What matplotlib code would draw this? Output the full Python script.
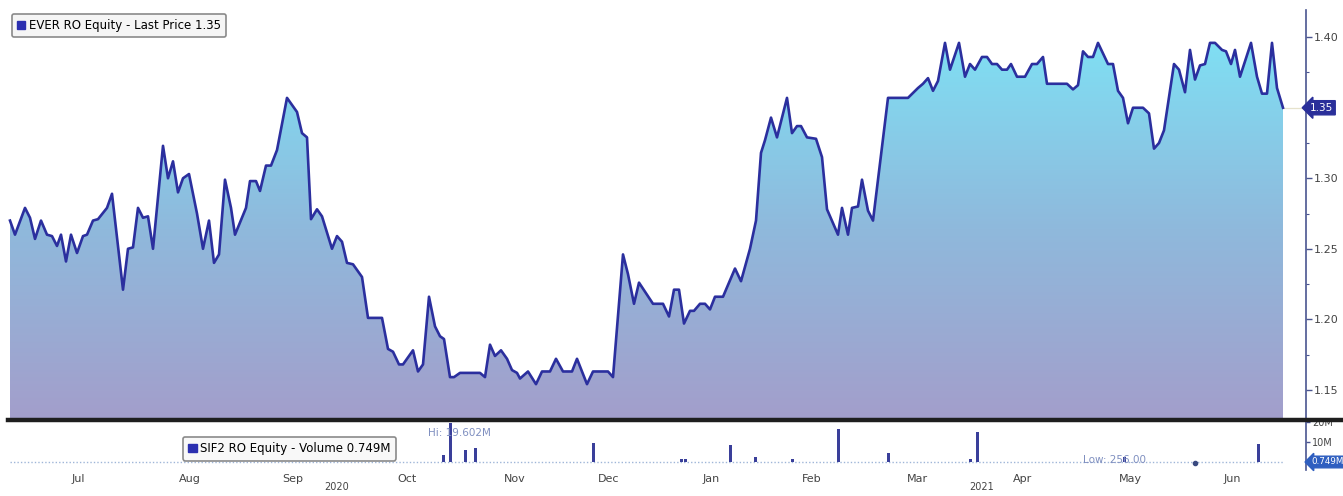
"""EVER RO price with SIF2 RO volume panel, Bloomberg-style static chart."""

import matplotlib

matplotlib.use("Agg")
import matplotlib.pyplot as plt
import numpy as np
from matplotlib.colors import LinearSegmentedColormap
from matplotlib.lines import Line2D
from matplotlib.patches import Patch

plt.rcParams["font.family"] = ["Liberation Sans Narrow", "DejaVu Sans"]

# Price series (x = trading session index, y = last price)
days = [
    0.0, 1.0, 3.0, 4.0, 5.0, 6.2, 7.4, 8.4, 9.4, 10.2, 11.2, 12.2, 13.4, 14.6, 15.4,
    16.6, 17.6, 19.4, 20.4, 22.6, 23.6, 24.6, 25.6, 26.6, 27.6, 28.6, 30.6, 31.6,
    32.6, 33.6, 34.6, 35.8, 37.4, 38.6, 39.8, 40.8, 41.8, 43.0, 44.2, 45.0, 47.2,
    48.0, 49.2, 50.0, 51.2, 52.2, 53.4, 55.4, 57.4, 58.4, 59.4, 60.2, 61.4, 62.4,
    64.4, 65.4, 66.4, 67.4, 68.6, 70.4, 71.6, 74.4, 75.6, 76.6, 77.8, 78.6, 80.6,
    81.6, 82.6, 83.8, 85.0, 86.0, 86.8, 88.0, 88.8, 90.0, 94.0, 95.0, 96.0, 97.0,
    98.2, 99.4, 100.4, 101.4, 102.0, 103.6, 105.2, 106.4, 108.0, 109.2, 110.6,
    112.4, 113.4, 115.4, 116.6, 119.6, 120.6, 122.6, 123.6, 124.8, 125.8, 128.6,
    130.6, 131.8, 132.8, 133.8, 134.8, 136.0, 136.8, 138.0, 139.0, 140.0, 141.0,
    142.6, 145.0, 146.2, 148.0, 149.2, 150.2, 151.0, 152.2, 153.4, 155.4, 156.4,
    157.4, 158.2, 159.4, 161.2, 162.4, 163.4, 165.6, 166.4, 167.6, 168.4, 169.6,
    170.4, 171.6, 172.6, 175.6, 179.6, 181.6, 182.6, 183.6, 184.6, 185.6, 187.0,
    188.0, 189.8, 191.0, 192.0, 193.0, 194.4, 195.4, 196.4, 197.4, 198.4, 199.4,
    200.2, 201.4, 203.0, 204.4, 205.4, 206.6, 207.4, 211.4, 212.6, 213.6, 214.6,
    215.6, 216.6, 217.6, 219.6, 220.6, 221.6, 222.6, 223.6, 224.6, 226.6, 227.8,
    228.8, 229.8, 230.8, 232.8, 233.8, 235.0, 236.0, 237.0, 238.0, 239.0, 240.0,
    241.0, 242.4, 243.2, 244.2, 245.0, 246.0, 248.2, 249.4, 250.4, 251.4, 252.4,
    253.4, 254.6,
]
price = [
    1.270, 1.260, 1.279, 1.272, 1.257, 1.270, 1.260, 1.259, 1.252, 1.260, 1.241, 1.260, 1.247, 1.259, 1.260,
    1.270, 1.271, 1.279, 1.289, 1.221, 1.250, 1.251, 1.279, 1.272, 1.273, 1.250, 1.323, 1.300,
    1.312, 1.290, 1.300, 1.303, 1.275, 1.250, 1.270, 1.240, 1.246, 1.299, 1.279, 1.260, 1.279,
    1.298, 1.298, 1.291, 1.309, 1.309, 1.320, 1.357, 1.347, 1.332, 1.329, 1.271, 1.278, 1.273,
    1.250, 1.259, 1.255, 1.240, 1.239, 1.230, 1.201, 1.201, 1.179, 1.177, 1.168, 1.168, 1.178,
    1.163, 1.168, 1.216, 1.195, 1.188, 1.186, 1.159, 1.159, 1.162, 1.162, 1.159, 1.182, 1.174,
    1.178, 1.172, 1.164, 1.162, 1.158, 1.163, 1.154, 1.163, 1.163, 1.172, 1.163,
    1.163, 1.172, 1.154, 1.163, 1.163, 1.159, 1.246, 1.232, 1.211, 1.226, 1.211,
    1.211, 1.202, 1.221, 1.221, 1.197, 1.206, 1.206, 1.211, 1.211, 1.207, 1.216,
    1.216, 1.236, 1.227, 1.250, 1.270, 1.318, 1.327, 1.343, 1.329, 1.357, 1.332,
    1.337, 1.337, 1.329, 1.328, 1.315, 1.278, 1.260, 1.279, 1.260, 1.279, 1.280,
    1.299, 1.277, 1.270, 1.357, 1.357, 1.364, 1.367, 1.371, 1.362, 1.369, 1.396,
    1.377, 1.396, 1.372, 1.381, 1.377, 1.386, 1.386, 1.381, 1.381, 1.377, 1.377,
    1.381, 1.372, 1.372, 1.381, 1.381, 1.386, 1.367, 1.367, 1.363, 1.366, 1.390,
    1.386, 1.386, 1.396, 1.381, 1.381, 1.362, 1.357, 1.339, 1.350, 1.350, 1.346,
    1.321, 1.325, 1.334, 1.381, 1.377, 1.361, 1.391, 1.370, 1.380, 1.381, 1.396,
    1.396, 1.391, 1.390, 1.381, 1.391, 1.372, 1.396, 1.372, 1.360, 1.360, 1.396,
    1.364, 1.350,
]

# Volume spikes (millions of shares)
vol_days = [86.6, 88.0, 91.0, 93.0, 116.6, 134.2, 135.0, 144.0, 149.0, 156.4,
            165.6, 175.6, 192.0, 193.4, 222.8, 249.6]
vol_m = [3.5, 19.6, 6.0, 7.0, 9.5, 1.5, 1.5, 8.5, 2.5, 1.5,
         16.5, 4.5, 1.5, 15.0, 2.5, 9.0]

month_labels = ["Jul", "Aug", "Sep", "Oct", "Nov", "Dec", "Jan", "Feb", "Mar", "Apr", "May", "Jun"]
month_pos = [13.6, 36.0, 56.6, 79.4, 101.0, 119.8, 140.2, 160.4, 181.4, 202.6, 224.0, 244.4]
year_labels = ["2020", "2021"]
year_pos = [65.4, 194.4]

last_price = 1.35
last_volume = "0.749M"
hi_volume = "Hi: 19.602M"
lo_volume = "Low: 256.00"
lo_day = 237.0

W, H = 1343, 496
fig = plt.figure(figsize=(W / 100, H / 100), dpi=100)
fig.patch.set_facecolor("white")

left, right = 8 / W, 1306 / W
ax = fig.add_axes([left, (H - 420) / H, right - left, 420 / H])
axv = fig.add_axes([left, (H - 470) / H, right - left, 48 / H])

x0, x1 = -0.4, 259.2
y0, y1 = 1.1286, 1.4264
line_col = "#2b2f9e"
axis_col = "#4a5590"
label_col = "#444444"
note_col = "#7f8fc0"

# gradient area under the price line
cmap = LinearSegmentedColormap.from_list("area", ["#a39ecb", "#8fb9dc", "#7fe0f4"])
grad = np.linspace(0, 1, 256).reshape(-1, 1)
im = ax.imshow(grad, extent=[x0, x1, y0, 1.40], origin="lower", aspect="auto",
               cmap=cmap, zorder=1)
area = ax.fill_between(days, price, y0, facecolor="none", edgecolor="none")
im.set_clip_path(area.get_paths()[0], transform=ax.transData)
ax.plot(days, price, color=line_col, lw=1.9, zorder=3, solid_joinstyle="round")
ax.plot([days[-1], x1], [last_price, last_price], color="#e6e2cc", lw=0.9, zorder=2)

ax.set_xlim(x0, x1)
ax.set_ylim(y0, y1)
ax.set_xticks([])
ax.yaxis.tick_right()
ax.set_yticks([1.15, 1.20, 1.25, 1.30, 1.35, 1.40])
ax.set_yticklabels(["1.15", "1.20", "1.25", "1.30", "", "1.40"])
ax.set_yticks([1.175, 1.225, 1.275, 1.325, 1.375], minor=True)
ax.tick_params(axis="y", which="major", length=4, width=1, colors=axis_col,
               labelcolor=label_col, labelsize=8, pad=1.5)
ax.tick_params(axis="y", which="minor", length=2, width=0.8, colors=axis_col)
for side in ["top", "left", "bottom"]:
    ax.spines[side].set_visible(False)
ax.spines["right"].set_color(axis_col)
ax.spines["right"].set_linewidth(1.2)
ax.spines["right"].set_bounds(y0, 1.419)

ax.text(1.003, last_price, "1.35", transform=ax.get_yaxis_transform(),
        ha="left", va="center", color="white", fontsize=7.5, zorder=5,
        bbox=dict(boxstyle="larrow,pad=0.2", fc="#2a2f9a", ec="#2a2f9a"))

leg = ax.legend(handles=[Patch(color="#2b2fb0", label="EVER RO Equity - Last Price 1.35")],
                loc="upper left", bbox_to_anchor=(0.003, 0.967), borderaxespad=0,
                fontsize=8.5, handlelength=0.7, handleheight=0.7, handletextpad=0.3,
                borderpad=0.45, fancybox=True, framealpha=1)
leg.get_frame().set_facecolor("#f5f5f5")
leg.get_frame().set_edgecolor("#8a8a8a")
leg.get_frame().set_linewidth(1.2)

# volume panel
axv.plot([days[0], days[-1]], [0, 0], color="#9fb6d8", lw=1, ls=(0, (1, 1.5)), zorder=1)
axv.bar(vol_days, vol_m, width=0.6, bottom=0, color="#3a3f9a", zorder=2)
axv.plot([lo_day], [-0.6], marker="o", ms=3, color="#3a4a80", zorder=3)
axv.text(83.5, 14.5, hi_volume, color=note_col, fontsize=7.5, ha="left", va="center")
axv.text(214.5, 0.8, lo_volume, color=note_col, fontsize=7.5, ha="left", va="center")
axv.set_xlim(x0, x1)
axv.set_ylim(-4, 20)
axv.yaxis.tick_right()
axv.set_yticks([10, 20])
axv.set_yticklabels(["10M", "20M"])
axv.tick_params(axis="y", length=3, width=1, colors=axis_col, labelcolor=label_col,
                labelsize=7, pad=1.5)
axv.set_xticks(month_pos)
axv.set_xticklabels(month_labels)
axv.tick_params(axis="x", length=0, pad=3, labelsize=8, labelcolor=label_col)
for side in ["top", "left", "bottom"]:
    axv.spines[side].set_visible(False)
axv.spines["right"].set_color(axis_col)
axv.spines["right"].set_linewidth(1.2)
for xp, yl in zip(year_pos, year_labels):
    axv.text(xp, -0.36, yl, transform=axv.get_xaxis_transform(), ha="center",
             va="center", fontsize=7, color=label_col, clip_on=False)

axv.text(1.004, 0, last_volume, transform=axv.get_yaxis_transform(), ha="left",
         va="center", color="white", fontsize=6.3, zorder=5, clip_on=False,
         bbox=dict(boxstyle="larrow,pad=0.15", fc="#2f5fc0", ec="#2f5fc0"))

vleg = axv.legend(handles=[Patch(color="#2b2fb0", label="SIF2 RO Equity - Volume 0.749M")],
                  loc="upper left", bbox_to_anchor=(0.1348, 0.69), borderaxespad=0,
                  fontsize=8.5, handlelength=0.7, handleheight=0.7, handletextpad=0.3,
                  borderpad=0.45, fancybox=True, framealpha=1)
vleg.get_frame().set_facecolor("#f8f8f8")
vleg.get_frame().set_edgecolor("#8a8a8a")
vleg.get_frame().set_linewidth(1.2)

# panel separator
fig.add_artist(Line2D([left, 1.0], [(H - 420) / H] * 2, transform=fig.transFigure,
                      color="#1e1e1e", lw=3.2, zorder=10))

fig.savefig("out.png", dpi=100, facecolor="white")
